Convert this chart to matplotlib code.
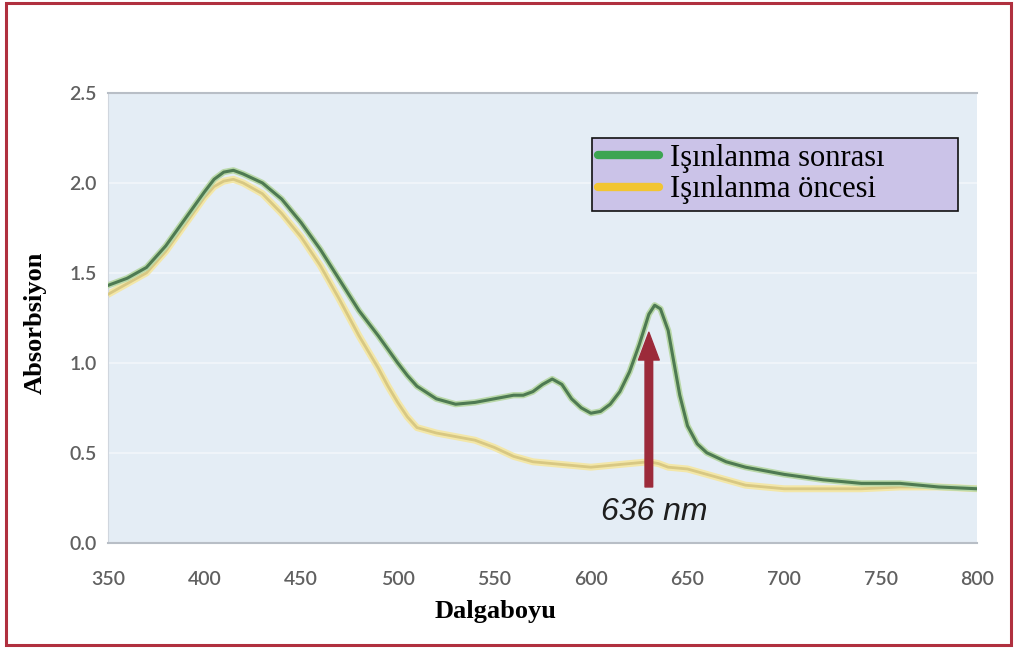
import matplotlib
matplotlib.use("Agg")
import matplotlib.pyplot as plt
from matplotlib.lines import Line2D
from matplotlib.patches import Rectangle

# absorbance spectra
wl_after = [350, 360, 370, 380, 390, 400, 405, 410, 415, 420, 430, 440, 450, 460, 470,
            480, 490, 500, 505, 510, 520, 530, 540, 550, 560, 565, 570, 575, 580, 585,
            590, 595, 600, 605, 610, 615, 620, 625, 630, 633, 636, 640, 643, 646, 650,
            655, 660, 670, 680, 690, 700, 720, 740, 760, 780, 800]
abs_after = [1.43, 1.47, 1.53, 1.65, 1.80, 1.95, 2.02, 2.06, 2.07, 2.05, 2.00, 1.91, 1.78,
             1.63, 1.46, 1.29, 1.15, 1.00, 0.93, 0.87, 0.80, 0.77, 0.78, 0.80, 0.82, 0.82,
             0.84, 0.88, 0.91, 0.88, 0.80, 0.75, 0.72, 0.73, 0.77, 0.84, 0.95, 1.10, 1.27,
             1.32, 1.30, 1.18, 1.00, 0.82, 0.65, 0.55, 0.50, 0.45, 0.42, 0.40, 0.38, 0.35,
             0.33, 0.33, 0.31, 0.30]

wl_before = [350, 360, 370, 380, 390, 400, 405, 410, 415, 420, 430, 440, 450, 460, 470,
             480, 490, 495, 500, 505, 510, 520, 530, 540, 550, 560, 570, 580, 590, 600,
             610, 620, 630, 635, 640, 650, 660, 670, 680, 690, 700, 720, 740, 760, 780, 800]
abs_before = [1.38, 1.44, 1.50, 1.62, 1.77, 1.92, 1.98, 2.01, 2.02, 2.00, 1.94, 1.83, 1.70,
              1.54, 1.35, 1.15, 0.97, 0.87, 0.78, 0.70, 0.64, 0.61, 0.59, 0.57, 0.53, 0.48,
              0.45, 0.44, 0.43, 0.42, 0.43, 0.44, 0.45, 0.44, 0.42, 0.41, 0.38, 0.35, 0.32,
              0.31, 0.30, 0.30, 0.30, 0.31, 0.31, 0.30]

x_ticks = [350, 400, 450, 500, 550, 600, 650, 700, 750, 800]
y_ticks = [0.0, 0.5, 1.0, 1.5, 2.0, 2.5]
legend_labels = ["Işınlanma sonrası", "Işınlanma öncesi"]
peak_nm = 630
peak_text = "636 nm"

fig = plt.figure(figsize=(10.17, 6.5), dpi=100)
fig.patch.set_facecolor("white")
fig.patches.append(Rectangle((0.006, 0.008), 0.988, 0.988, transform=fig.transFigure,
                             fill=False, edgecolor="#B0303F", linewidth=2.2))

ax = fig.add_axes([0.106, 0.165, 0.855, 0.692])
ax.set_facecolor("#E4EDF5")
ax.set_xlim(350, 800)
ax.set_ylim(0, 2.5)

for y in y_ticks[1:-1]:
    ax.axhline(y, color="#F2F6FA", lw=1.2, zorder=1)

# curves: light halo under a darker core
ax.plot(wl_before, abs_before, color="#F3E7A8", lw=5, solid_capstyle="round", zorder=2)
ax.plot(wl_before, abs_before, color="#D8C883", lw=2, zorder=3)
ax.plot(wl_after, abs_after, color="#B9D8A8", lw=4.5, solid_capstyle="round", zorder=4)
ax.plot(wl_after, abs_after, color="#4E7A52", lw=2.2, zorder=5)

ax.annotate("", xy=(peak_nm, 1.17), xytext=(peak_nm, 0.31),
            arrowprops=dict(facecolor="#9C2A3A", edgecolor="#9C2A3A", width=5.5,
                            headwidth=15, headlength=20), zorder=6)
ax.text(peak_nm + 3, 0.17, peak_text, ha="center", va="center", fontsize=23,
        style="italic", family="Liberation Sans", color="#1E1E1E", zorder=6)

ax.set_xticks(x_ticks)
ax.set_yticks(y_ticks)
ax.set_yticklabels([f"{v:.1f}" for v in y_ticks])
ax.tick_params(axis="both", length=0, labelsize=14, labelcolor="#606060")
ax.tick_params(axis="x", pad=20)
ax.tick_params(axis="y", pad=8)
for lab in ax.get_xticklabels() + ax.get_yticklabels():
    lab.set_family("Lato")
    lab.set_fontweight("semibold")

for side in ("top", "bottom"):
    ax.spines[side].set_color("#B8BEC6")
    ax.spines[side].set_linewidth(1.5)
ax.spines["left"].set_color("#D0D6DE")
ax.spines["right"].set_visible(False)

ax.set_xlabel("Dalgaboyu", family="Liberation Serif", fontweight="bold", fontsize=19)
ax.xaxis.set_label_coords(0.446, -0.128)
ax.set_ylabel("Absorbsiyon", family="Liberation Serif", fontweight="bold", fontsize=19)
ax.yaxis.set_label_coords(-0.07, 0.49)

handles = [Line2D([], [], color="#3DA552", lw=6, solid_capstyle="round"),
           Line2D([], [], color="#F2C531", lw=6, solid_capstyle="round")]
leg = ax.legend(handles, legend_labels, loc="upper left",
                bbox_to_anchor=(0.557, 0.747, 0.421, 0.153), mode="expand",
                prop={"family": "Liberation Serif", "size": 22}, frameon=True,
                fancybox=False, facecolor="#CBC3E8", edgecolor="#111111",
                framealpha=1, borderpad=0.2, labelspacing=0.08, handlelength=2.0,
                handletextpad=0.35, borderaxespad=0)
leg.get_frame().set_linewidth(1.2)
leg.set_zorder(7)

fig.savefig("out.png", dpi=100)
